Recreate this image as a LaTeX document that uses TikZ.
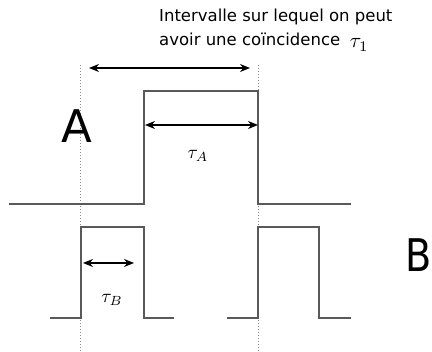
\documentclass[tikz,border=0pt]{standalone}
\usepackage{fontspec}
\setmainfont{DejaVu Sans}
\usetikzlibrary{arrows.meta}
\begin{document}
\begin{tikzpicture}[x=1pt,y=-1pt,
  sig/.style={draw=black!65, line width=1.4pt},
  guide/.style={draw=black!45, dotted, line width=1pt},
  dim/.style={draw=black, line width=1.2pt, {Stealth[length=10pt,width=8pt]}-{Stealth[length=10pt,width=8pt]}},
  lbl/.style={inner sep=0pt},
  txtfont/.style={font=\fontsize{16.5}{24}\selectfont},
  mathlbl/.style={inner sep=0pt, scale=1.9}]
\useasboundingbox (0,0) rectangle (432,352);
% coordinates
\coordinate (gAt) at (80,65);
\coordinate (gAb) at (80,352);
\coordinate (gBt) at (258,65);
\coordinate (gBb) at (258,352);
% guides
\draw[guide] (gAt) -- (gAb);
\draw[guide] (gBt) -- (gBb);
% signal A
\coordinate (a0) at (9,204);
\coordinate (a1) at (144,204);
\coordinate (a2) at (144,91);
\coordinate (a3) at (258,91);
\coordinate (a4) at (258,204);
\coordinate (a5) at (351,204);
\draw[sig] (a0) -- (a1) -- (a2) -- (a3) -- (a4) -- (a5);
% signal B
\coordinate (b0) at (50,318);
\coordinate (b1) at (81,318);
\coordinate (b2) at (81,227);
\coordinate (b3) at (144,227);
\coordinate (b4) at (144,318);
\coordinate (b5) at (174,318);
\draw[sig] (b0) -- (b1) -- (b2) -- (b3) -- (b4) -- (b5);
\coordinate (c0) at (227,318);
\coordinate (c1) at (258,318);
\coordinate (c2) at (258,227);
\coordinate (c3) at (319,227);
\coordinate (c4) at (319,318);
\coordinate (c5) at (351,318);
\draw[sig] (c0) -- (c1) -- (c2) -- (c3) -- (c4) -- (c5);
% arrows
\coordinate (i0) at (89,68);
\coordinate (i1) at (250,68);
\draw[dim] (i0) -- (i1);
\coordinate (ta0) at (145,125);
\coordinate (ta1) at (258,125);
\draw[dim] (ta0) -- (ta1);
\coordinate (tb0) at (83,263);
\coordinate (tb1) at (134,263);
\draw[dim] (tb0) -- (tb1);
% labels
\node[lbl, txtfont, anchor=base west] (l1) at (159,22) {Intervalle sur lequel on peut};
\node[lbl, txtfont, anchor=base west] (l2) at (159,46) {avoir une coïncidence};
\node[inner sep=0pt, scale=2.1, anchor=base west] (t1) at ([xshift=9pt,yshift=-2pt]l2.base east) {$\tau_1$};
\node[mathlbl] (tA) at (198,156) {$\tau_A$};
\node[mathlbl] (tB) at (112,300) {$\tau_B$};
\node[lbl, font=\fontsize{45}{45}\selectfont] (A) at (77,126) {A};
\node[lbl, font=\fontsize{45}{45}\selectfont, xscale=0.85] (B) at (419,255) {B};
\end{tikzpicture}
\end{document}
